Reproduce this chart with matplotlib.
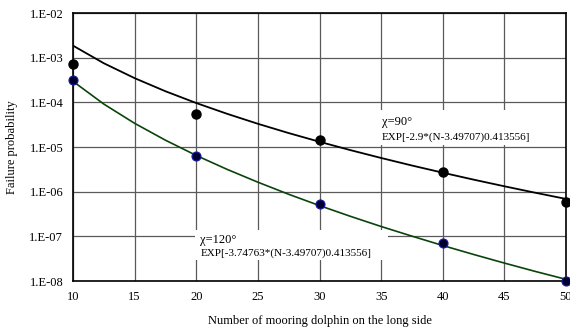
import matplotlib
matplotlib.use("Agg")
import matplotlib.pyplot as plt
from matplotlib.patches import Rectangle

plt.rcParams["font.family"] = ["Liberation Serif", "DejaVu Serif"]

# points mesures
n_pts = [10, 20, 30, 40, 50]
p90 = [7.2e-4, 5.5e-5, 1.4e-5, 2.8e-6, 6.0e-7]
p120 = [3.1e-4, 6.2e-6, 5.2e-7, 7.1e-8, 1.0e-8]

# courbes ajustees
n_fit = [10, 12.5, 15, 17.5, 20, 22.5, 25, 27.5, 30, 32.5, 35, 37.5, 40, 42.5, 45, 47.5, 50]
fit90 = [1.86e-3, 7.50e-4, 3.48e-4, 1.77e-4, 9.65e-5, 5.54e-5, 3.31e-5, 2.05e-5, 1.31e-5,
         8.52e-6, 5.68e-6, 3.85e-6, 2.66e-6, 1.86e-6, 1.32e-6, 9.47e-7, 6.88e-7]
fit120 = [2.95e-4, 9.15e-5, 3.39e-5, 1.42e-5, 6.47e-6, 3.16e-6, 1.63e-6, 8.74e-7, 4.88e-7,
          2.81e-7, 1.66e-7, 1.01e-7, 6.23e-8, 3.93e-8, 2.52e-8, 1.64e-8, 1.09e-8]

x_ticks = [10, 15, 20, 25, 30, 35, 40, 45, 50]
y_ticks = [1e-8, 1e-7, 1e-6, 1e-5, 1e-4, 1e-3, 1e-2]
y_labels = ["1.E-08", "1.E-07", "1.E-06", "1.E-05", "1.E-04", "1.E-03", "1.E-02"]

W, H = 570, 334
fig = plt.figure(figsize=(W / 100, H / 100), dpi=100)
ax = fig.add_axes([73 / W, (H - 281) / H, 493 / W, 268 / H])

ax.set_yscale("log")
ax.set_xlim(10, 50)
ax.set_ylim(1e-8, 1e-2)
ax.set_xticks(x_ticks)
ax.set_yticks(y_ticks)
ax.set_yticklabels(y_labels)
ax.minorticks_off()
ax.tick_params(length=0, labelsize=9, pad=7)
ax.grid(True, color="#5a5a5a", linewidth=0.9)
ax.set_axisbelow(True)
for s in ax.spines.values():
    s.set_linewidth(1.2)
    s.set_color("black")

# cadres blancs des annotations
ax.add_patch(Rectangle((0.619, 0.507), 0.338, 0.131, transform=ax.transAxes,
                       facecolor="white", edgecolor="none", zorder=1.5))
ax.add_patch(Rectangle((0.247, 0.078), 0.392, 0.112, transform=ax.transAxes,
                       facecolor="white", edgecolor="none", zorder=1.5))

ax.plot(n_fit, fit90, color="black", linewidth=1.3, zorder=3)
ax.plot(n_fit, fit120, color="#0a440a", linewidth=1.2, zorder=3)
ax.plot(n_pts, p90, "o", color="black", markersize=6.5, zorder=4, clip_on=False)
ax.plot(n_pts, p120, "o", markerfacecolor="#000030", markeredgecolor="#1a1aa0",
        markeredgewidth=0.8, markersize=6.5, zorder=4, clip_on=False)

ax.text(0.627, 0.594, "χ=90°", transform=ax.transAxes, fontsize=9,
        va="center", ha="left", zorder=5)
ax.text(0.627, 0.535, "EXP[-2.9*(N-3.49707)0.413556]", transform=ax.transAxes,
        fontsize=8, va="center", ha="left", zorder=5)
ax.text(0.258, 0.153, "χ=120°", transform=ax.transAxes, fontsize=9,
        va="center", ha="left", zorder=5)
ax.text(0.258, 0.103, "EXP[-3.74763*(N-3.49707)0.413556]", transform=ax.transAxes,
        fontsize=8, va="center", ha="left", zorder=5)

ax.set_xlabel("Number of mooring dolphin on the long side", fontsize=9, labelpad=9)
ax.set_ylabel("Failure probability", fontsize=9, labelpad=8)

fig.savefig("out.png", dpi=100, facecolor="white")
